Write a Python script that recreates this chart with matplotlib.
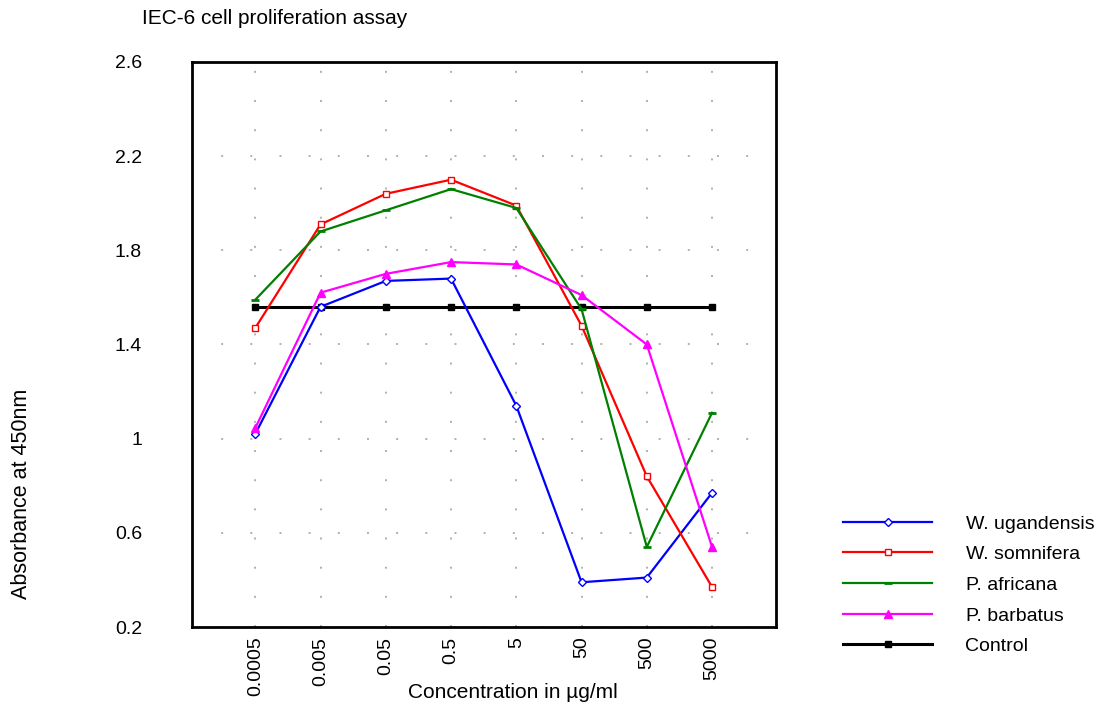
import matplotlib
matplotlib.use("Agg")
import matplotlib.pyplot as plt

plt.rcParams["font.family"] = ["Liberation Sans", "DejaVu Sans"]

# concentrations (categorical x axis)
concentrations = ["0.0005", "0.005", "0.05", "0.5", "5", "50", "500", "5000"]

# absorbance readings
w_ugandensis = [1.02, 1.56, 1.67, 1.68, 1.14, 0.39, 0.41, 0.77]
w_somnifera = [1.47, 1.91, 2.04, 2.10, 1.99, 1.48, 0.84, 0.37]
p_africana = [1.59, 1.88, 1.97, 2.06, 1.98, 1.55, 0.54, 1.11]
p_barbatus = [1.045, 1.62, 1.70, 1.75, 1.74, 1.61, 1.40, 0.54]
control = [1.56, 1.56, 1.56, 1.56, 1.56, 1.56, 1.56, 1.56]

y_ticks = [0.2, 0.6, 1.0, 1.4, 1.8, 2.2, 2.6]
y_tick_labels = ["0.2", "0.6", "1", "1.4", "1.8", "2.2", "2.6"]

fig = plt.figure(figsize=(11.18, 7.1), dpi=100)
ax = fig.add_axes([0.1717, 0.1169, 0.5224, 0.7958])

x = list(range(1, len(concentrations) + 1))

ax.plot(x, w_ugandensis, color="#0000ff", lw=1.6, marker="D", ms=4, mfc="white", mec="#0000ff", mew=1,
        label="W. ugandensis")
ax.plot(x, w_somnifera, color="#ff0000", lw=1.6, marker="s", ms=4, mfc="white", mec="#ff0000", mew=1,
        label="W. somnifera")
ax.plot(x, p_africana, color="#008000", lw=1.6, marker="_", ms=6, mew=2, label="P. africana")
ax.plot(x, p_barbatus, color="#ff00ff", lw=1.6, marker="^", ms=6, label="P. barbatus")
ax.plot(x, control, color="black", lw=2.2, marker="s", ms=4, mfc="black", mec="black",
        label="Control", zorder=1)

ax.set_xlim(0.03, 8.98)
ax.set_ylim(0.2, 2.6)
ax.set_xticks(x)
ax.set_xticklabels(concentrations, rotation=90, fontsize=14)
ax.set_yticks(y_ticks)
ax.set_yticklabels(y_tick_labels, fontsize=14)
ax.tick_params(axis="y", length=0, pad=36)
ax.tick_params(axis="x", length=0, pad=7)

ax.grid(True, color="#b0b0b0", linestyle=(0, (1, 14)), linewidth=1.4)
ax.set_axisbelow(True)
for sp in ax.spines.values():
    sp.set_linewidth(2)

fig.text(142 / 1118, 1 - 18 / 710, "IEC-6 cell proliferation assay", fontsize=15, ha="left", va="center")
fig.text(513 / 1118, 1 - 693 / 710, "Concentration in \u00b5g/ml", fontsize=15, ha="center", va="center")
fig.text(22 / 1118, 1 - 494 / 710, "Absorbance at 450nm", fontsize=15.5, rotation=90, ha="center", va="center")

fig.legend(loc="upper left", bbox_to_anchor=(843 / 1118, 1 - 515 / 710), frameon=False, fontsize=14,
           handlelength=4.6, handletextpad=1.7, labelspacing=0.67, borderaxespad=0, borderpad=0)

fig.savefig("out.png", dpi=100)
